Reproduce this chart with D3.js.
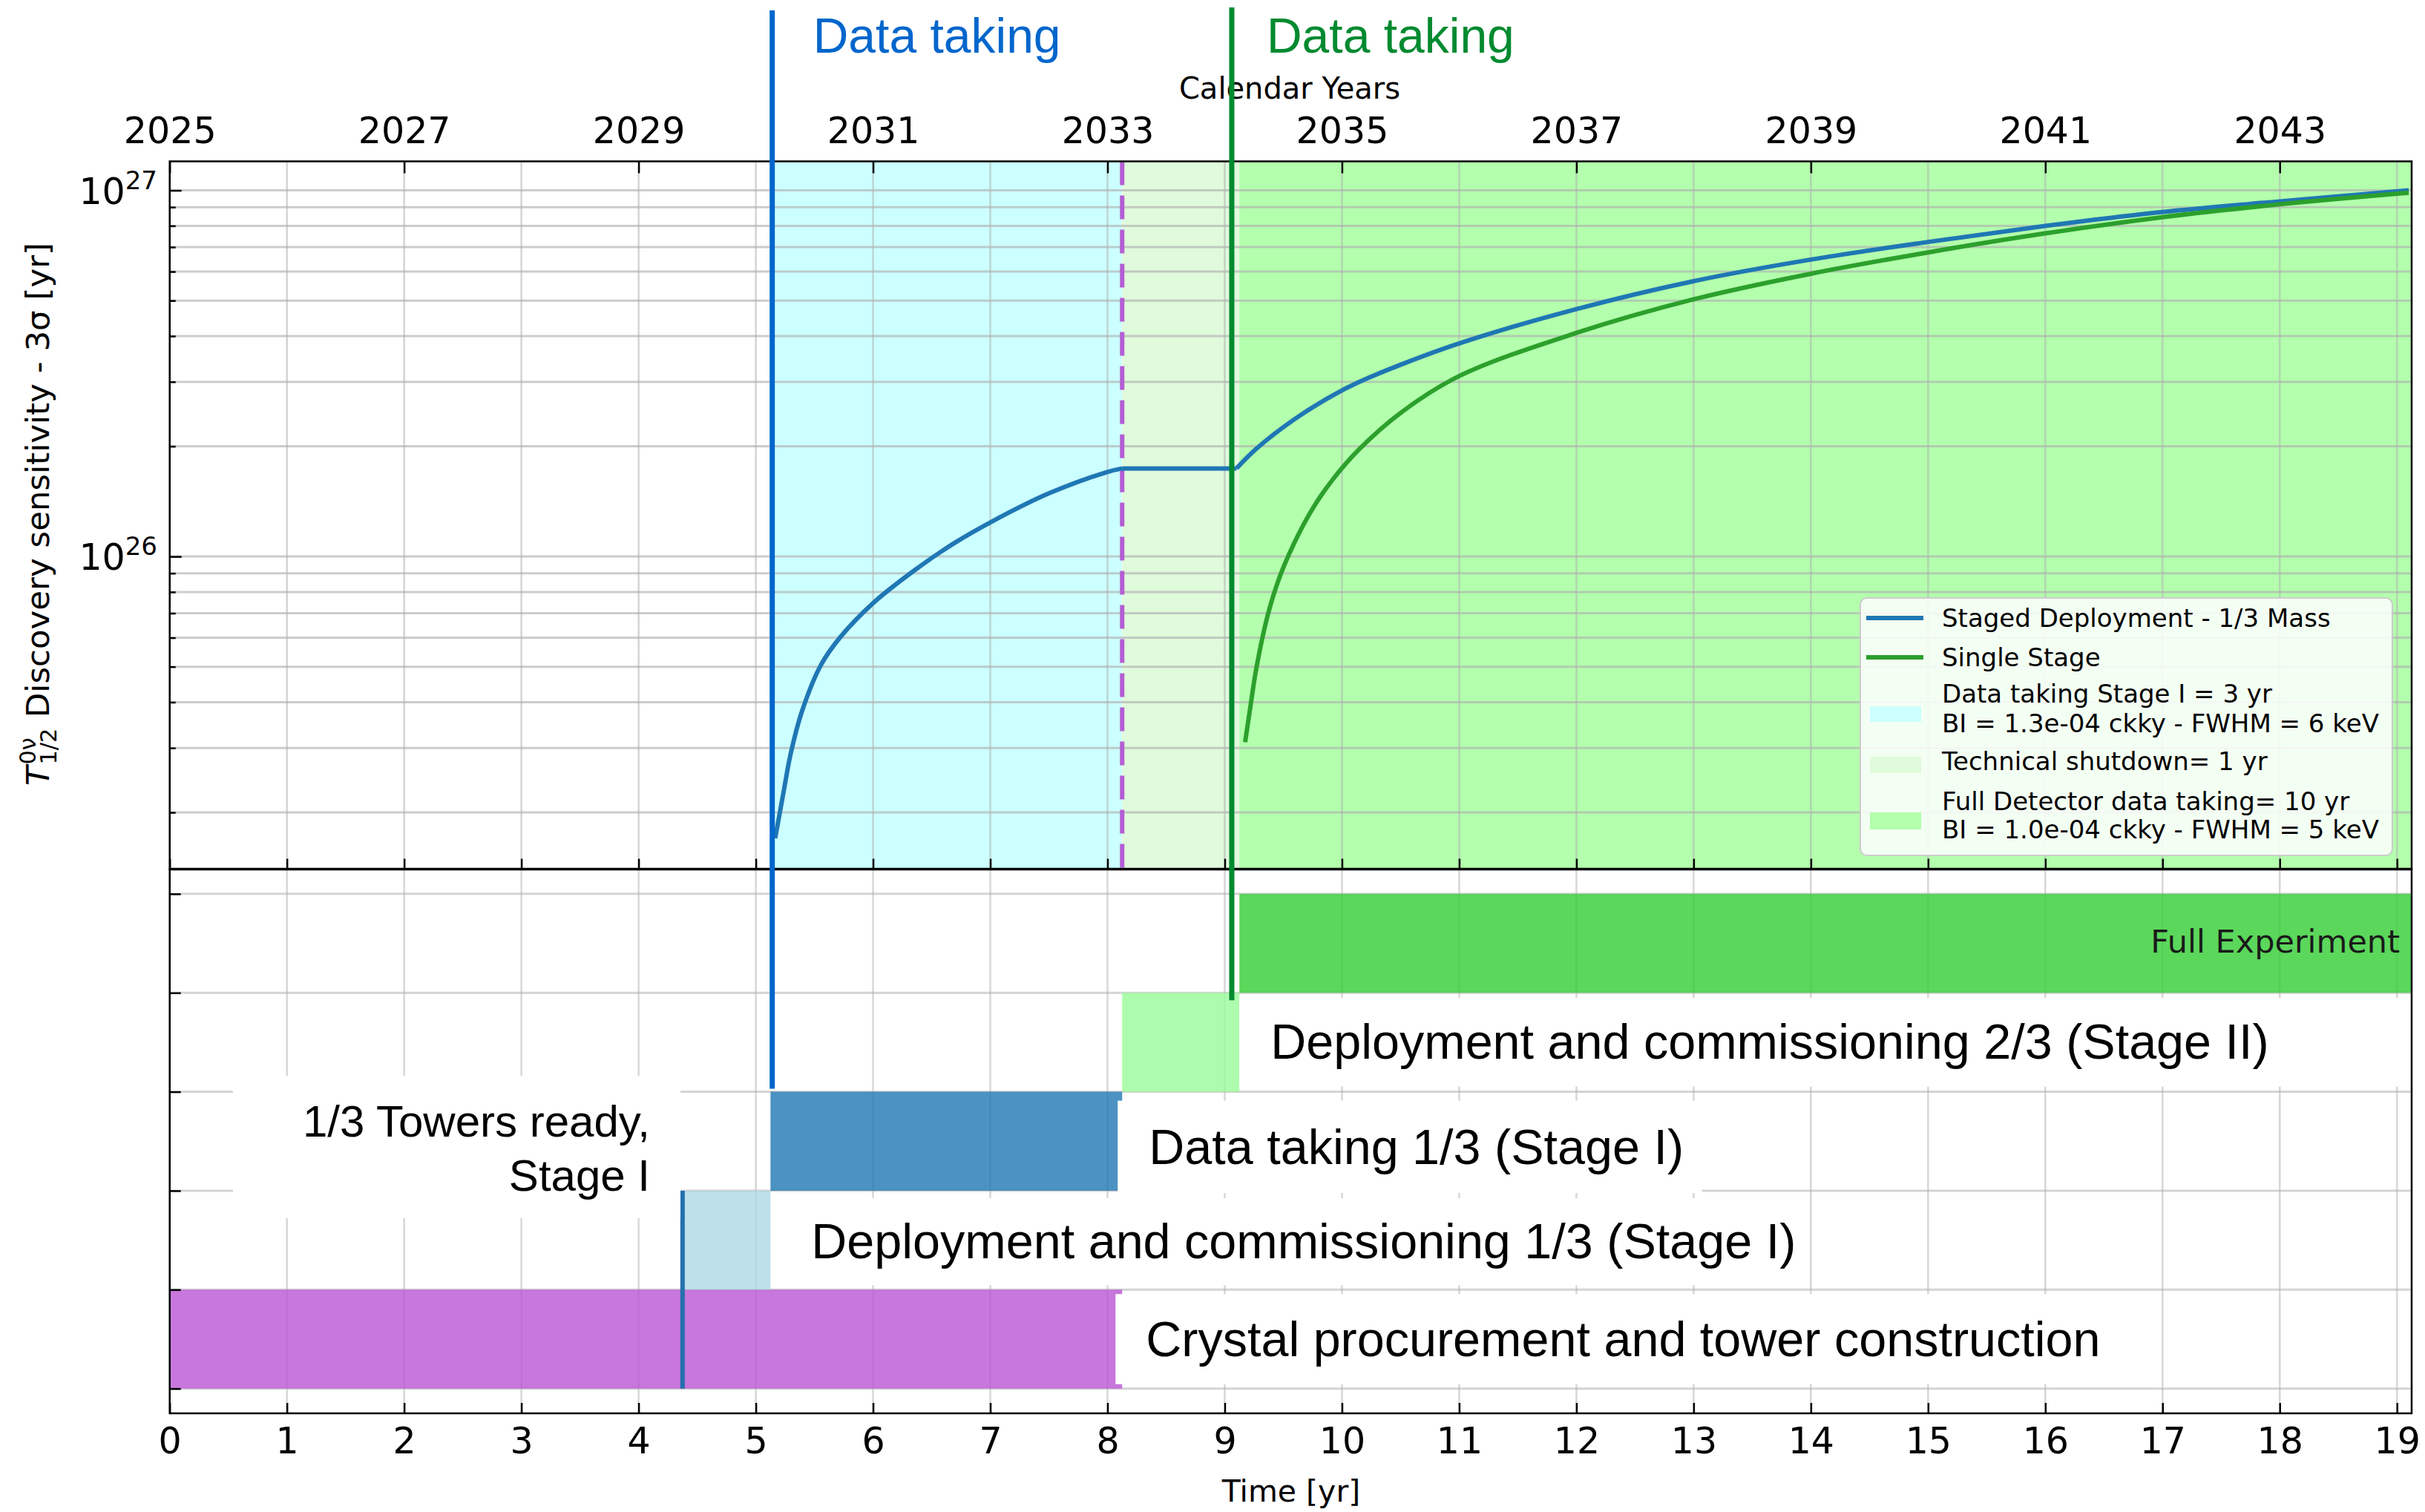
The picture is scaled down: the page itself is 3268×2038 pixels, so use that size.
<!DOCTYPE html>
<html><head><meta charset="utf-8">
<script src="https://cdn.jsdelivr.net/npm/d3@7"></script>
<style>body{margin:0;background:#fff} svg{display:block}</style>
</head><body>
<svg id="c" width="3268" height="2038"></svg>
<script>
// ---------------- DATA ----------------
const stagedT = [5.165, 5.234, 5.298, 5.395, 5.556, 5.718, 6.0, 6.364, 6.687, 7.01, 7.495, 7.995, 8.125, 9.10, 9.27, 9.594, 9.917, 10.14, 10.5, 11, 12, 13, 14, 15, 16, 17, 18, 19.1];
const stagedV = [1.70e25, 2.25e25, 2.90e25, 3.79e25, 5.06e25, 6.01e25, 7.46e25, 9.22e25, 1.085e26, 1.244e26, 1.485e26, 1.70e26, 1.74e26, 1.74e26, 1.97e26, 2.37e26, 2.75e26, 2.99e26, 3.34e26, 3.82e26, 4.74e26, 5.65e26, 6.47e26, 7.23e26, 8.0e26, 8.73e26, 9.33e26, 1.0e27];
const singleT = [9.174, 9.222, 9.271, 9.368, 9.465, 9.594, 9.755, 9.917, 10.14, 10.5, 11, 12, 13, 14, 15, 16, 17, 18, 19.1];
const singleV = [3.11e25, 3.95e25, 4.98e25, 6.94e25, 8.73e25, 1.091e26, 1.36e26, 1.616e26, 1.953e26, 2.467e26, 3.11e26, 4.08e26, 5.04e26, 5.92e26, 6.77e26, 7.63e26, 8.45e26, 9.16e26, 9.85e26];
const seriesNames = ["Staged Deployment - 1/3 Mass", "Single Stage"];

const phaseStart = [5.125, 8.125, 9.125];
const phaseEnd = [8.125, 9.125, 19.125];
const phaseNames = [["Data taking Stage I = 3 yr", "BI = 1.3e-04 ckky - FWHM = 6 keV"], ["Technical shutdown= 1 yr"], ["Full Detector data taking= 10 yr", "BI = 1.0e-04 ckky - FWHM = 5 keV"]];

const tasks = ["Crystal procurement and tower construction", "Deployment and commissioning 1/3 (Stage I)", "Data taking 1/3 (Stage I)", "Deployment and commissioning 2/3 (Stage II)", "Full Experiment"];
const taskStart = [0, 4.375, 5.125, 8.125, 9.125];
const taskEnd = [8.125, 5.125, 8.125, 9.125, 19.125];
const towersReady = 4.375;
const towersLabel = ["1/3 Towers ready,", "Stage I"];
const dataTakingMarks = [5.14, 9.06];
const dataTakingLabel = "Data taking";

const timeTicks = [0,1,2,3,4,5,6,7,8,9,10,11,12,13,14,15,16,17,18,19];
const yearTicks = [0,2,4,6,8,10,12,14,16,18];
const yearLabels = ["2025","2027","2029","2031","2033","2035","2037","2039","2041","2043"];
const yMajor = [1e26, 1e27];
const yMajorExp = ["26", "27"];

// ---------------- STYLE / LAYOUT ----------------
const DV = "'DejaVu Sans', sans-serif";
const LS = "'Liberation Sans', Arial, Helvetica, sans-serif";
const seriesColors = ["#1f77b4", "#2ca02c"];
const phaseColors = ["#ccffff", "#e0fadc", "#b3ffad"];
const taskColors = ["mediumorchid", "lightblue", "#1f77b4", "palegreen", "limegreen"];
const markColors = ["#0066cc", "#008a30"];
const gridColor = "#b0b0b0";

const svg = d3.select("#c");
const L = 228.7, R = 3250, T0 = 217.5, T1 = 1171.5, B1 = 1905;
const x = d3.scaleLinear().domain([0, 19.125]).range([L, R]);
const yT = d3.scaleLog().domain([1.4e25, 1.2e27]).range([T1, T0]);
const yB = d3.scaleLinear().domain([-0.25, 5.25]).range([B1, T1]);

svg.append("rect").attr("width", 3268).attr("height", 2038).attr("fill", "#fff");

const defs = svg.append("defs");
defs.append("clipPath").attr("id", "clipTop").append("rect").attr("x", L).attr("y", T0).attr("width", R - L).attr("height", T1 - T0);
defs.append("clipPath").attr("id", "clipBot").append("rect").attr("x", L).attr("y", T1).attr("width", R - L).attr("height", B1 - T1);

// ---------------- TOP PANEL ----------------
const gTop = svg.append("g").attr("clip-path", "url(#clipTop)");
gTop.selectAll("rect.phase").data(phaseStart).join("rect")
  .attr("x", d => x(d)).attr("width", (d, i) => x(phaseEnd[i]) - x(d))
  .attr("y", T0).attr("height", T1 - T0).attr("fill", (d, i) => phaseColors[i]);

const logGrid = [];
for (let e = 25; e <= 27; e++) for (let m = 1; m <= 9; m++) { const v = m * Math.pow(10, e); if (v >= 1.4e25 && v <= 1.2e27) logGrid.push(v); }
gTop.selectAll("line.hg").data(logGrid).join("line")
  .attr("x1", L).attr("x2", R).attr("y1", d => yT(d)).attr("y2", d => yT(d))
  .attr("stroke", gridColor).attr("stroke-opacity", 0.65).attr("stroke-width", 3);
gTop.selectAll("line.vg").data(timeTicks.slice(1)).join("line")
  .attr("x1", d => x(d)).attr("x2", d => x(d)).attr("y1", T0).attr("y2", T1)
  .attr("stroke", gridColor).attr("stroke-opacity", 0.55).attr("stroke-width", 2.5);

// dashed end of stage I
gTop.append("line").attr("x1", x(phaseEnd[0])).attr("x2", x(phaseEnd[0])).attr("y1", T0).attr("y2", T1)
  .attr("stroke", "#b35ed3").attr("stroke-width", 6).attr("stroke-dasharray", "32,14");

const line = d3.line().x(d => x(d[0])).y(d => yT(d[1])).curve(d3.curveCatmullRom.alpha(0.5));
const stagedPts = stagedT.map((t, i) => [t, stagedV[i]]);
const iEnd1 = stagedT.indexOf(phaseEnd[0]);          // end of stage I rise
const iFlat = stagedV.lastIndexOf(stagedV[iEnd1]);    // end of flat shutdown
const stagedSegs = [stagedPts.slice(0, iEnd1 + 1), stagedPts.slice(iEnd1, iFlat + 1), stagedPts.slice(iFlat)];
const stagedD = stagedSegs.map(s => line(s)).join("");
gTop.append("path").attr("d", stagedD)
  .attr("fill", "none").attr("stroke", seriesColors[0]).attr("stroke-width", 6).attr("stroke-linejoin", "round");
gTop.append("path").datum(singleT.map((t, i) => [t, singleV[i]])).attr("d", line)
  .attr("fill", "none").attr("stroke", seriesColors[1]).attr("stroke-width", 6).attr("stroke-linejoin", "round");

// ---------------- BOTTOM PANEL ----------------
const gBot = svg.append("g").attr("clip-path", "url(#clipBot)");
gBot.selectAll("line.hg").data([0, 1, 2, 3, 4, 5]).join("line")
  .attr("x1", L).attr("x2", R).attr("y1", d => yB(d)).attr("y2", d => yB(d))
  .attr("stroke", gridColor).attr("stroke-opacity", 0.55).attr("stroke-width", 3);
gBot.selectAll("line.vg").data(timeTicks.slice(1)).join("line")
  .attr("x1", d => x(d)).attr("x2", d => x(d)).attr("y1", T1).attr("y2", B1)
  .attr("stroke", gridColor).attr("stroke-opacity", 0.5).attr("stroke-width", 2.5);

gBot.selectAll("rect.task").data(tasks).join("rect")
  .attr("x", (d, i) => x(taskStart[i])).attr("width", (d, i) => x(taskEnd[i]) - x(taskStart[i]))
  .attr("y", (d, i) => yB(i + 1)).attr("height", (d, i) => yB(i) - yB(i + 1))
  .attr("fill", (d, i) => taskColors[i]).attr("fill-opacity", 0.8);

// towers ready marker
gBot.append("line").attr("x1", x(towersReady)).attr("x2", x(towersReady)).attr("y1", yB(2)).attr("y2", yB(0))
  .attr("stroke", "#2470ad").attr("stroke-width", 6);

// white label boxes (overlay annotations)
const boxes = [
  [x(taskEnd[0]) - 9, x(16.72), yB(1) + 6, yB(0) - 6],
  [x(taskEnd[1]) + 6, x(13.87), yB(2) + 10, yB(1) - 6],
  [x(taskEnd[2]) - 6, x(13.07), yB(3) + 12, yB(2) + 3],
  [x(taskEnd[3]), R - 2, yB(4) + 7, yB(3) - 7],
  [314, 917, 1450, 1642]
];
svg.selectAll("rect.wbox").data(boxes).join("rect")
  .attr("x", d => d[0]).attr("width", d => d[1] - d[0]).attr("y", d => d[2]).attr("height", d => d[3] - d[2])
  .attr("fill", "#fff");

const labOff = [32, 55, 36, 42];
const labDy = [23, 24, 31, 22];
for (let i = 0; i < 4; i++) {
  svg.append("text").attr("x", x(taskEnd[i]) + labOff[i]).attr("y", (yB(i) + yB(i + 1)) / 2 + labDy[i])
    .attr("font-family", LS).attr("font-size", 66.5).attr("fill", "#000").text(tasks[i]);
}
svg.append("text").attr("x", R - 16).attr("y", (yB(4) + yB(5)) / 2 + 12)
  .attr("text-anchor", "end").attr("font-family", DV).attr("font-size", 43).attr("fill", "#1a1a1a").text(tasks[4]);

svg.selectAll("text.tow").data(towersLabel).join("text")
  .attr("x", 876).attr("y", (d, i) => 1532 + i * 73).attr("text-anchor", "end")
  .attr("font-family", LS).attr("font-size", 60).attr("fill", "#000").text(d => d);

// ---------------- AXES ----------------
function styleAxis(g) {
  g.select(".domain").remove();
  g.selectAll(".tick line").attr("stroke", "#000").attr("stroke-width", 2.5);
  g.selectAll(".tick text").attr("font-family", DV).attr("font-size", 49).attr("fill", "#000");
}
svg.append("g").attr("transform", `translate(0,${T0})`)
  .call(d3.axisTop(x).tickValues(yearTicks).tickFormat((d, i) => yearLabels[i]).tickSizeInner(-16).tickSizeOuter(0).tickPadding(25))
  .call(styleAxis);
svg.append("g").attr("transform", `translate(0,${T1})`)
  .call(d3.axisBottom(x).tickValues(timeTicks).tickFormat("").tickSizeInner(-14).tickSizeOuter(0))
  .call(styleAxis);
svg.append("g").attr("transform", `translate(0,${B1})`)
  .call(d3.axisBottom(x).tickValues(timeTicks).tickFormat(d => d).tickSizeInner(-14).tickSizeOuter(0).tickPadding(19))
  .call(styleAxis);
svg.append("g").attr("transform", `translate(${L},0)`)
  .call(d3.axisLeft(yT).tickValues(yMajor).tickFormat("").tickSizeInner(-16).tickSizeOuter(0))
  .call(styleAxis);
svg.append("g").attr("transform", `translate(${L},0)`)
  .call(d3.axisLeft(yT).tickValues(logGrid.filter(v => yMajor.indexOf(v) < 0)).tickFormat("").tickSizeInner(-8).tickSizeOuter(0))
  .call(styleAxis);
svg.append("g").attr("transform", `translate(${L},0)`)
  .call(d3.axisLeft(yB).tickValues([0, 1, 2, 3, 4, 5]).tickFormat("").tickSizeInner(-15).tickSizeOuter(0))
  .call(styleAxis);

yMajor.forEach((v, i) => {
  const t = svg.append("text").attr("x", 212).attr("y", yT(v) + 18).attr("text-anchor", "end")
    .attr("font-family", DV).attr("font-size", 49).attr("fill", "#000");
  t.append("tspan").text("10");
  t.append("tspan").attr("font-size", 34).attr("dy", -20).text(yMajorExp[i]);
});

svg.append("rect").attr("x", L).attr("y", T0).attr("width", R - L).attr("height", T1 - T0)
  .attr("fill", "none").attr("stroke", "#000").attr("stroke-width", 2.5);
svg.append("rect").attr("x", L).attr("y", T1).attr("width", R - L).attr("height", B1 - T1)
  .attr("fill", "none").attr("stroke", "#000").attr("stroke-width", 2.5);
svg.append("line").attr("x1", L).attr("x2", R).attr("y1", T1).attr("y2", T1).attr("stroke", "#000").attr("stroke-width", 3.5);

svg.append("text").attr("x", 1738).attr("y", 133).attr("text-anchor", "middle")
  .attr("font-family", DV).attr("font-size", 40).attr("fill", "#000").text("Calendar Years");
svg.append("text").attr("x", 1740).attr("y", 2024).attr("text-anchor", "middle")
  .attr("font-family", DV).attr("font-size", 41).attr("fill", "#000").text("Time [yr]");

// y-axis label with T^{0ν}_{1/2}
(function () {
  const fs = 43.5;
  const g = svg.append("g").attr("transform", "translate(66,693) rotate(-90)");
  const tT = g.append("text").attr("font-family", DV).attr("font-size", fs).attr("font-style", "italic").text("T");
  const tSup = g.append("text").attr("font-family", DV).attr("font-size", fs * 0.7).attr("y", -18).text("0ν");
  const tSub = g.append("text").attr("font-family", DV).attr("font-size", fs * 0.7).attr("y", 10).text("1/2");
  const tMain = g.append("text").attr("font-family", DV).attr("font-size", fs).text("Discovery sensitivity - 3σ [yr]");
  const wT = tT.node().getComputedTextLength();
  const wS = Math.max(tSup.node().getComputedTextLength(), tSub.node().getComputedTextLength());
  const wM = tMain.node().getComputedTextLength();
  const gap = 0.33 * fs;
  const total = wT + 2 + wS + gap + wM;
  const x0 = -total / 2;
  tT.attr("x", x0);
  tSup.attr("x", x0 + wT + 2);
  tSub.attr("x", x0 + wT + 2);
  tMain.attr("x", x0 + wT + 2 + wS + gap);
  g.selectAll("text").attr("fill", "#000");
})();

// ---------------- LEGEND ----------------
const lg = svg.append("g");
lg.append("rect").attr("x", 2507).attr("y", 806).attr("width", 717).attr("height", 347).attr("rx", 9)
  .attr("fill", "#fff").attr("fill-opacity", 0.85).attr("stroke", "#cccccc").attr("stroke-width", 2);
const lineRowsY = [833, 886];
seriesNames.forEach((n, i) => {
  lg.append("line").attr("x1", 2515).attr("x2", 2592).attr("y1", lineRowsY[i]).attr("y2", lineRowsY[i])
    .attr("stroke", seriesColors[i]).attr("stroke-width", 6);
  lg.append("text").attr("x", 2617).attr("y", lineRowsY[i] + 12).attr("font-family", DV).attr("font-size", 34).attr("fill", "#000").text(n);
});
const patchY = [[952, 973], [1020, 1042], [1095, 1118]];
const textY = [[947, 987], [1038], [1092, 1130]];
phaseNames.forEach((lines, i) => {
  lg.append("rect").attr("x", 2520).attr("width", 69).attr("y", patchY[i][0]).attr("height", patchY[i][1] - patchY[i][0])
    .attr("fill", phaseColors[i]);
  lines.forEach((s, j) => {
    lg.append("text").attr("x", 2617).attr("y", textY[i][j]).attr("font-family", DV).attr("font-size", 34).attr("fill", "#000").text(s);
  });
});

// ---------------- DATA-TAKING MARKERS ----------------
const markBottoms = [yB(3) - 4, yB(4) + 10];
const markTops = [14, 10];
dataTakingMarks.forEach((t, i) => {
  svg.append("line").attr("x1", x(t)).attr("x2", x(t)).attr("y1", markTops[i]).attr("y2", markBottoms[i])
    .attr("stroke", markColors[i]).attr("stroke-width", 7);
  svg.append("text").attr("x", x(t) + 55 - i * 8).attr("y", 71).attr("font-family", LS).attr("font-size", 66)
    .attr("fill", markColors[i]).text(dataTakingLabel);
});
</script>
</body></html>
